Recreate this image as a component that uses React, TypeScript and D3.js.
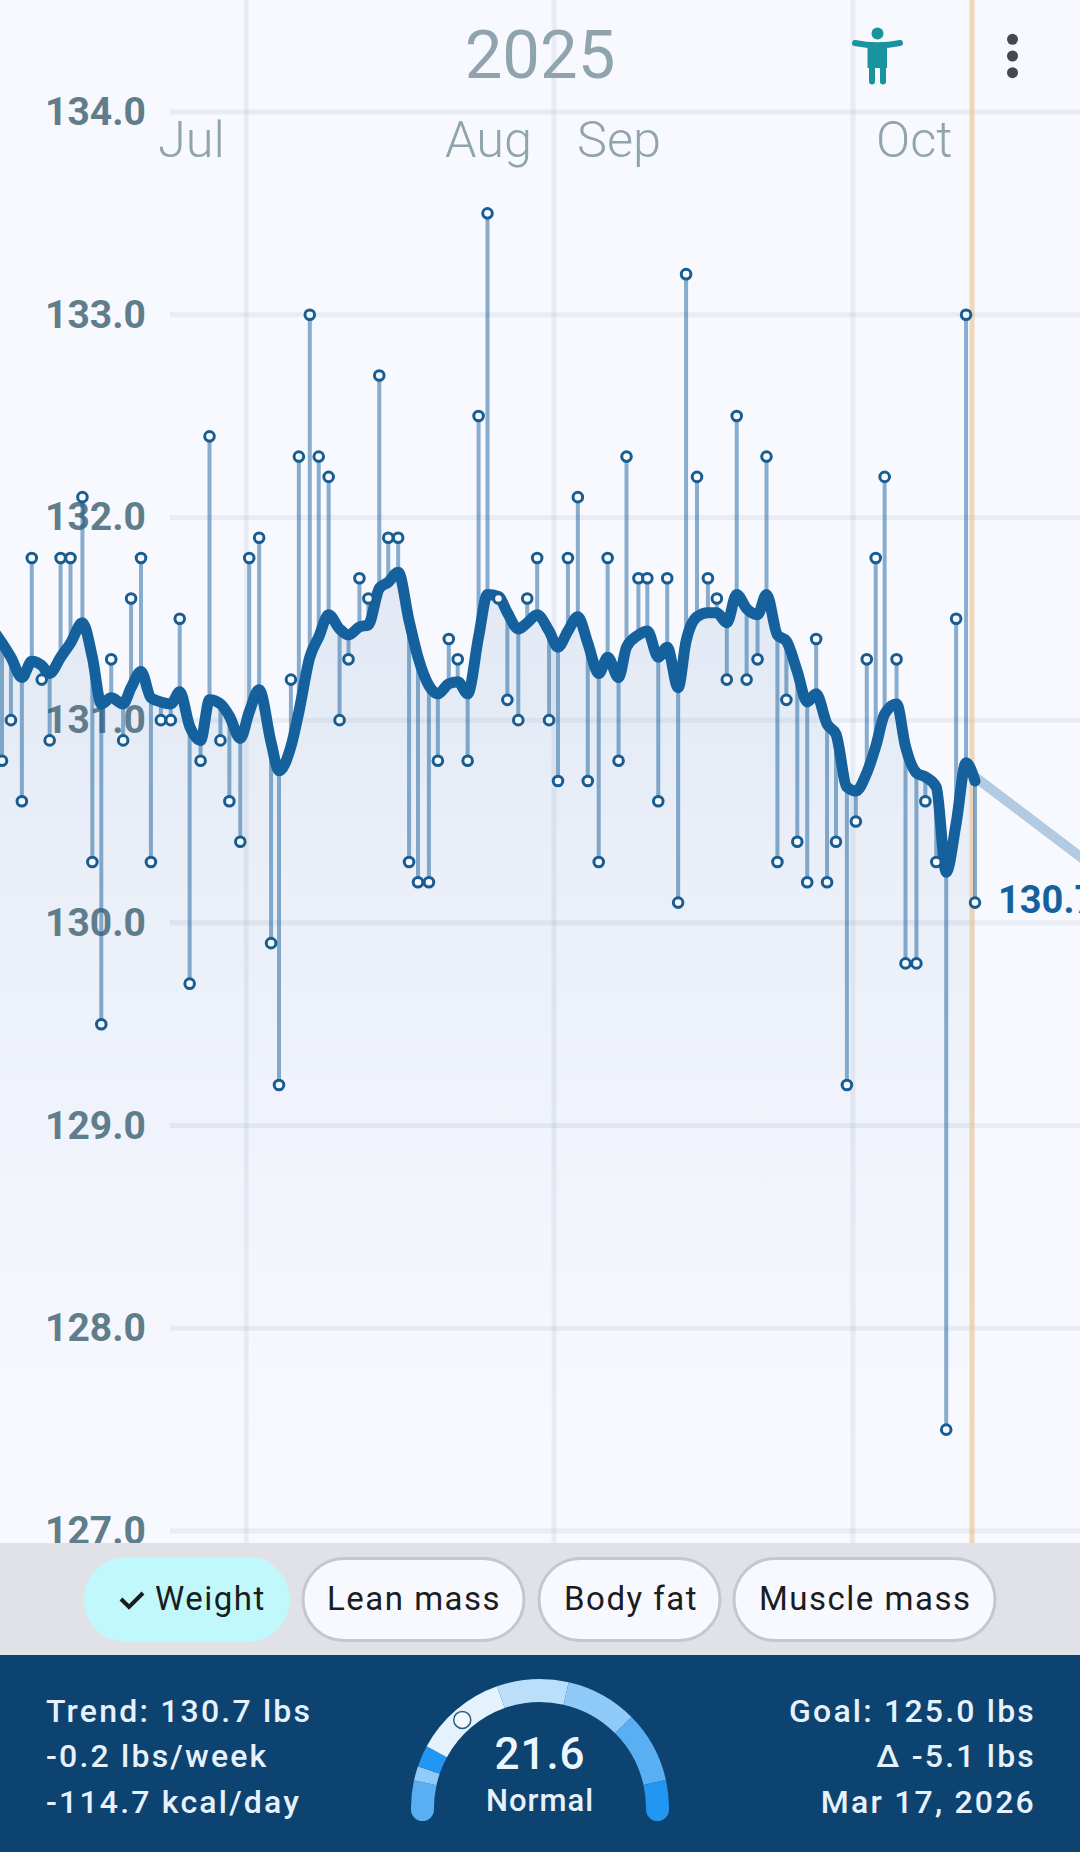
import React from "react";
import * as d3 from "d3";

const W = 1080, H = 1852;
const yTicks = [134, 133, 132, 131, 130, 129, 128, 127];
const monthGridDays = [24.6, 55.6, 85.7];
const todayDay = 97.7;
const monthLabels = [
  { label: "Jul", x: 158 }, { label: "Aug", x: 445 }, { label: "Sep", x: 577 }, { label: "Oct", x: 876 },
];
const days = [-1,0,0.9,2,3,4,4.8,5.9,6.9,8.1,9.1,10,11,12.2,13,14,15,16,17,17.9,18.9,20,20.9,22,22.9,24,24.9,25.9,27.1,27.9,29.1,29.9,31,31.9,32.9,34,34.9,36,36.9,38,38.9,39.9,41,41.9,43,43.9,45,45.9,46.9,48,48.9,50,50.9,52,52.9,53.9,55.1,56,57,58,59,60.1,61,62.1,62.9,64.1,65,66.1,67,68.1,68.9,70,71.1,72,73,74,75,76.1,77,78.1,79,80.1,81.1,82,83.1,84,85.1,86,87.1,88,88.9,90.1,91,92.1,93,94.1,95.1,96.1,97.1,98];
const weights = [131.0,130.8,131.0,130.6,131.8,131.2,130.9,131.8,131.8,132.1,130.3,129.5,131.3,130.9,131.6,131.8,130.3,131.0,131.0,131.5,129.7,130.8,132.4,130.9,130.6,130.4,131.8,131.9,129.9,129.2,131.2,132.3,133.0,132.3,132.2,131.0,131.3,131.7,131.6,132.7,131.9,131.9,130.3,130.2,130.2,130.8,131.4,131.3,130.8,132.5,133.5,131.6,131.1,131.0,131.6,131.8,131.0,130.7,131.8,132.1,130.7,130.3,131.8,130.8,132.3,131.7,131.7,130.6,131.7,130.1,133.2,132.2,131.7,131.6,131.2,132.5,131.2,131.3,132.3,130.3,131.1,130.4,130.2,131.4,130.2,130.4,129.2,130.5,131.3,131.8,132.2,131.3,129.8,129.8,130.6,130.3,127.5,131.5,133.0,130.1];
const trend = [131.45,131.38,131.31,131.21,131.29,131.27,131.23,131.31,131.38,131.48,131.31,131.08,131.11,131.08,131.16,131.24,131.11,131.09,131.08,131.14,130.97,130.90,131.10,131.08,131.02,130.91,131.04,131.15,130.89,130.75,130.87,131.04,131.31,131.41,131.52,131.45,131.42,131.46,131.47,131.65,131.68,131.73,131.49,131.31,131.17,131.13,131.18,131.19,131.13,131.41,131.62,131.61,131.53,131.45,131.48,131.52,131.44,131.36,131.44,131.51,131.38,131.23,131.31,131.21,131.36,131.42,131.44,131.31,131.36,131.16,131.39,131.51,131.53,131.53,131.48,131.62,131.55,131.52,131.62,131.42,131.39,131.24,131.09,131.13,130.98,130.93,130.67,130.65,130.74,130.87,131.03,131.08,130.87,130.74,130.72,130.67,130.25,130.49,130.79,130.70];
const projectionDays = [98, 112];
const projectionValues = [130.72, 130.2];
const chips = [
  { label: "Weight", x0: 84, x1: 290, tx: 155, on: true },
  { label: "Lean mass", x0: 303, x1: 524, tx: 327, on: false },
  { label: "Body fat", x0: 539, x1: 720, tx: 564, on: false },
  { label: "Muscle mass", x0: 734, x1: 995, tx: 759, on: false },
];
const leftStats = ["Trend: 130.7 lbs", "-0.2 lbs/week", "-114.7 kcal/day"];
const rightStats = ["Goal: 125.0 lbs", "Δ -5.1 lbs", "Mar 17, 2026"];
const statBaselines = [1722, 1767, 1813];
const bmiMin = 14.08, bmiMax = 41.94, bmi = 21.6;
const bmiBreaks = [14.08, 16, 17, 18.5, 25, 30, 35, 40, 41.94];
const bmiColors = ["#5aaef2", "#90caf9", "#2196f3", "#e3f2fd", "#bbdefb", "#90caf9", "#5aaef2", "#2196f3"];

const x = d3.scaleLinear().domain([0, 98]).range([2, 975]);
const y = d3.scaleLinear().domain([134, 127]).range([112, 1531]);
const pts = days.map((d, i) => ({ d, w: weights[i], t: trend[i] }));
const trendLine = d3.line<any>().x(p => x(p.d)).y(p => y(p.t)).curve(d3.curveMonotoneX);
const trendArea = d3.area<any>().x(p => x(p.d)).y0(1543).y1(p => y(p.t)).curve(d3.curveMonotoneX);
const projLine = d3.line<number>().x(d => x(d)).y((_, i) => y(projectionValues[i]));

const gcx = 540, gcy = 1808, gr0 = 106, gr1 = 129;
const gaugeAngle = d3.scaleLinear().domain([bmiMin, bmiMax]).range([-Math.PI / 2, Math.PI / 2]);
const gaugeArc = d3.arc<any>().innerRadius(gr0).outerRadius(gr1);
const polar = (a: number, r: number) => [gcx + r * Math.sin(a), gcy - r * Math.cos(a)];

const font = "Roboto, sans-serif";

export default function App() {
  const [mx, my] = polar(gaugeAngle(bmi), (gr0 + gr1) / 2);
  const capL = polar(-Math.PI / 2, (gr0 + gr1) / 2);
  const capR = polar(Math.PI / 2, (gr0 + gr1) / 2);
  return (
    <svg width={W} height={H} viewBox={`0 0 ${W} ${H}`} style={{ position: "absolute", left: 0, top: 0, display: "block" }} fontFamily={font}>
      <defs>
        <linearGradient id="areaFill" gradientUnits="userSpaceOnUse" x1="0" x2="0" y1="570" y2="1440">
          <stop offset="0" stopColor="#e2e9f4" />
          <stop offset="1" stopColor="#f8f9ff" />
        </linearGradient>
      </defs>
      <rect width={W} height={H} fill="#f8f9ff" />
      <path d={trendArea(pts) ?? ""} fill="url(#areaFill)" />
      {yTicks.map(t => (
        <text key={t} x={45} y={y(t) + 13} fontSize={39} fontWeight={700} fill="#607d8b">{t.toFixed(1)}</text>
      ))}
      {yTicks.map(t => (
        <line key={t} x1={170} x2={W} y1={y(t)} y2={y(t)} stroke="#5f7fa0" strokeOpacity={0.1} strokeWidth={5} />
      ))}
      {monthGridDays.map(d => (
        <line key={d} x1={x(d)} x2={x(d)} y1={0} y2={1543} stroke="#5f7fa0" strokeOpacity={0.1} strokeWidth={5} />
      ))}
      <line x1={x(todayDay)} x2={x(todayDay)} y1={0} y2={1543} stroke="#e9c08e" strokeOpacity={0.6} strokeWidth={5} />
      <text x={540} y={78} textAnchor="middle" fontSize={67} fill="#90a4ae">2025</text>
      {monthLabels.map(m => (
        <text key={m.label} x={m.x} y={157} fontSize={50.5} fontWeight={300} fill="#90a4ae">{m.label}</text>
      ))}
      <path d={projLine(projectionDays) ?? ""} fill="none" stroke="#b3cbe2" strokeWidth={10} />
      {pts.map((p, i) => (
        <line key={i} x1={x(p.d)} x2={x(p.d)} y1={y(p.w)} y2={y(p.t)} stroke="#16609b" strokeOpacity={0.5} strokeWidth={4} />
      ))}
      <path d={trendLine(pts) ?? ""} fill="none" stroke="#15619e" strokeWidth={11} strokeLinecap="round" strokeLinejoin="round" />
      {pts.map((p, i) => (
        <circle key={i} cx={x(p.d)} cy={y(p.w)} r={4.8} fill="#f3f9ff" stroke="#1a5c8f" strokeWidth={3} />
      ))}
      <text x={998} y={913} fontSize={38} fontWeight={700} fill="#15619e">130.7</text>

      <circle cx={877.5} cy={33.5} r={6} fill="#1a939f" />
      <path d="M855 43 Q877.5 47.5 900 43" fill="none" stroke="#1a939f" strokeWidth={6} strokeLinecap="round" />
      <path d="M867.5 44 H887 V68 H867.5 Z" fill="#1a939f" />
      <path d="M872 62 V81.5 M883 62 V81.5" fill="none" stroke="#1a939f" strokeWidth={6} strokeLinecap="round" />
      {[39.3, 56, 72.7].map(c => <circle key={c} cx={1012.5} cy={c} r={5.5} fill="#44474f" />)}

      <rect x={0} y={1543} width={W} height={112} fill="#e0e2e8" />
      {chips.map(c => (
        <g key={c.label}>
          <rect x={c.x0} y={c.on ? 1557 : 1558.5} width={c.x1 - c.x0} height={c.on ? 85 : 82} rx={c.on ? 42 : 41}
            fill={c.on ? "#c0f8fc" : "#f8f9ff"} stroke={c.on ? "none" : "#c4c7cf"} strokeWidth={3} />
          <text x={c.tx} y={1610} fontSize={33} letterSpacing={1.5} fill="#191c20">{c.label}</text>
        </g>
      ))}
      <path d="M121 1599 L129 1607 L143 1593" fill="none" stroke="#191c20" strokeWidth={4} />

      <rect x={0} y={1655} width={W} height={197} fill="#0d4370" />
      {leftStats.map((s, i) => (
        <text key={s} x={46} y={statBaselines[i]} fontSize={32} fontWeight={500} letterSpacing={2.2} fill="#e6f1fb">{s}</text>
      ))}
      {rightStats.map((s, i) => (
        <text key={s} x={1036} y={statBaselines[i]} textAnchor="end" fontSize={32} fontWeight={500} letterSpacing={2.2} fill="#e6f1fb">{s}</text>
      ))}
      <circle cx={capL[0]} cy={capL[1] + 1.5} r={(gr1 - gr0) / 2} fill={bmiColors[0]} />
      <circle cx={capR[0]} cy={capR[1] + 1.5} r={(gr1 - gr0) / 2} fill={bmiColors[bmiColors.length - 1]} />
      <rect x={capL[0] - 11.5} y={gcy - 1} width={23} height={3} fill={bmiColors[0]} />
      <rect x={capR[0] - 11.5} y={gcy - 1} width={23} height={3} fill={bmiColors[bmiColors.length - 1]} />
      {bmiColors.map((c, i) => (
        <path key={i} fill={c} transform={`translate(${gcx},${gcy})`}
          d={gaugeArc({ startAngle: gaugeAngle(bmiBreaks[i]), endAngle: gaugeAngle(bmiBreaks[i + 1]) }) ?? ""} />
      ))}
      <circle cx={mx} cy={my} r={8.5} fill="#f3f8fe" stroke="#2c5f82" strokeWidth={1.5} />
      <text x={540} y={1769} textAnchor="middle" fontSize={44} fontWeight={500} letterSpacing={1} fill="#eef6fd">{bmi}</text>
      <text x={540} y={1811} textAnchor="middle" fontSize={31} fontWeight={500} letterSpacing={1} fill="#e6f1fb">Normal</text>
    </svg>
  );
}
